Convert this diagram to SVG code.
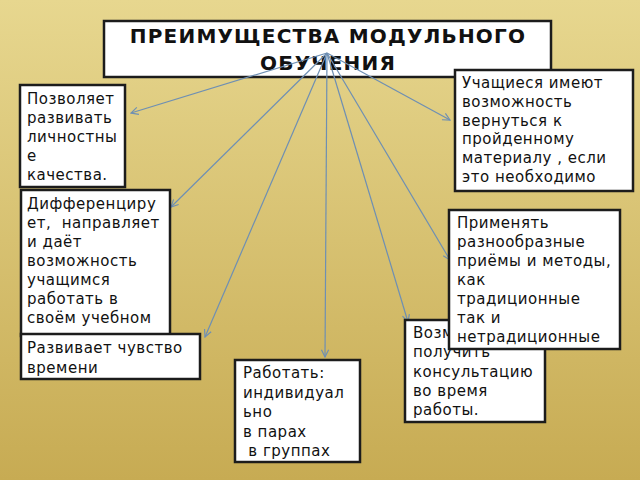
<svg xmlns="http://www.w3.org/2000/svg" width="640" height="480" viewBox="0 0 640 480" xml:space="preserve">
<defs>
<linearGradient id="bg" x1="0" y1="0" x2="0" y2="1">
<stop offset="0" stop-color="#e7d78f"/>
<stop offset="1" stop-color="#c7ab53"/>
</linearGradient>
<marker id="arr" viewBox="0 0 10 10" refX="9" refY="5" markerWidth="9" markerHeight="9" markerUnits="userSpaceOnUse" orient="auto">
<path d="M1,1 L9,5 L1,9" fill="none" stroke="#6e8fb3" stroke-width="1.3"/>
</marker>
<style>
.box{fill:#ffffff;stroke:#1c1c1c;stroke-width:2.5}
.t{font-family:"DejaVu Sans","Liberation Sans",sans-serif;font-size:15px;letter-spacing:0.5px;fill:#111;white-space:pre}
.h{font-family:"DejaVu Sans","Liberation Sans",sans-serif;font-size:20px;letter-spacing:1.2px;font-weight:bold;fill:#111;text-anchor:middle}
.c{stroke:#6e8fb3;stroke-width:1.2;fill:none;marker-end:url(#arr)}
</style>
</defs>
<rect width="640" height="480" fill="url(#bg)"/>
<g id="title">
<rect class="box" x="104" y="21" width="447" height="56"/>
<text class="h" x="328" y="43">ПРЕИМУЩЕСТВА МОДУЛЬНОГО</text>
<text class="h" x="328" y="70">ОБУЧЕНИЯ</text>
</g>
<g id="connectors">
<line class="c" x1="327" y1="53" x2="131" y2="113"/>
<line class="c" x1="327" y1="53" x2="450" y2="120"/>
<line class="c" x1="327" y1="53" x2="171" y2="207"/>
<line class="c" x1="327" y1="53" x2="450" y2="260"/>
<line class="c" x1="327" y1="53" x2="205" y2="337"/>
<line class="c" x1="327" y1="53" x2="408" y2="322"/>
<line class="c" x1="327" y1="53" x2="325" y2="357"/>
</g>
<g id="n1">
<rect class="box" x="20" y="85" width="105" height="102"/>
<text class="t" x="27" y="104">Позволяет</text>
<text class="t" x="27" y="123">развивать</text>
<text class="t" x="27" y="142">личностны</text>
<text class="t" x="27" y="161">е</text>
<text class="t" x="27" y="180">качества.</text>
</g>
<g id="n2">
<rect class="box" x="21" y="190" width="149" height="146"/>
<text class="t" x="27" y="209">Дифференциру</text>
<text class="t" x="27" y="228">ет,  направляет</text>
<text class="t" x="27" y="247">и даёт</text>
<text class="t" x="27" y="266">возможность</text>
<text class="t" x="27" y="285">учащимся</text>
<text class="t" x="27" y="304">работать в</text>
<text class="t" x="27" y="323">своём учебном</text>
</g>
<g id="n3">
<rect class="box" x="21" y="334" width="179" height="45"/>
<text class="t" x="27" y="353">Развивает чувство</text>
<text class="t" x="27" y="373">времени</text>
</g>
<g id="n4">
<rect class="box" x="455" y="70" width="178" height="121"/>
<text class="t" x="462" y="88">Учащиеся имеют</text>
<text class="t" x="462" y="107">возможность</text>
<text class="t" x="462" y="126">вернуться к</text>
<text class="t" x="462" y="144">пройденному</text>
<text class="t" x="462" y="163">материалу , если</text>
<text class="t" x="462" y="182">это необходимо</text>
</g>
<g id="n5">
<rect class="box" x="235" y="360" width="125" height="102"/>
<text class="t" x="243" y="378">Работать:</text>
<text class="t" x="243" y="398">индивидуал</text>
<text class="t" x="243" y="417">ьно</text>
<text class="t" x="243" y="437">в парах</text>
<text class="t" x="243" y="456"> в группах</text>
</g>
<g id="n6">
<rect class="box" x="405" y="320" width="140" height="102"/>
<text class="t" x="413" y="338">Возможность</text>
<text class="t" x="413" y="357">получить</text>
<text class="t" x="413" y="377">консультацию</text>
<text class="t" x="413" y="396">во время</text>
<text class="t" x="413" y="415">работы.</text>
</g>
<g id="n7">
<rect class="box" x="449" y="210" width="171" height="139"/>
<text class="t" x="457" y="228">Применять</text>
<text class="t" x="457" y="247">разнообразные</text>
<text class="t" x="457" y="266">приёмы и методы,</text>
<text class="t" x="457" y="285">как</text>
<text class="t" x="457" y="304">традиционные</text>
<text class="t" x="457" y="323">так и</text>
<text class="t" x="457" y="342">нетрадиционные</text>
</g>
</svg>
